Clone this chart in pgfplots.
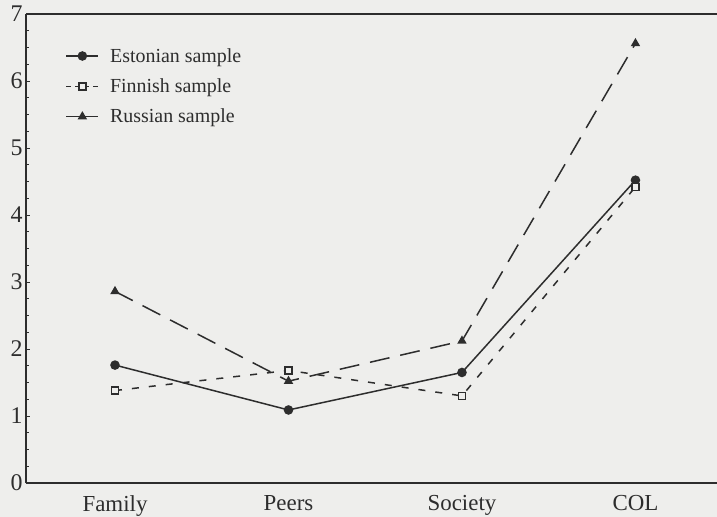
\documentclass[border=0pt]{standalone}
\usepackage{fontspec}
\setmainfont{Liberation Serif}
\usepackage{pgfplots}
\pgfplotsset{compat=1.18}
\definecolor{bg}{RGB}{238,238,236}
\definecolor{ink}{RGB}{45,45,45}
\begin{document}
\begin{tikzpicture}
\fill[bg] (-26bp,-34bp) rectangle (691bp,483bp);
\begin{axis}[
  at={(0,0)}, anchor=south west,
  scale only axis, width=691bp, height=469bp,
  xmin=-0.513, xmax=3.47, ymin=0, ymax=7,
  axis x line=bottom, axis y line=left,
  axis line style={ink, line width=1.6bp, -},
  xtick={0,1,2,3}, xticklabels={Family,Peers,Society,COL},
  major x tick style={draw=none},
  ytick={0,1,...,7}, minor y tick num=3,
  tick align=inside, major tick length=4bp, minor tick length=3bp,
  every tick/.style={ink, line width=0.8bp},
  yticklabel style={font=\fontsize{24}{26}\selectfont, text=ink},
  xticklabel style={font=\fontsize{23}{25}\selectfont, text=ink, yshift=-9bp},
  /pgf/number format/assume math mode=true,
  clip=false,
  legend cell align=left,
  legend image code/.code={\draw[mark repeat=2,mark phase=2,#1] plot coordinates {(0bp,0bp) (16bp,0bp) (32bp,0bp)};},
  legend style={draw=none, fill=none, at={(axis cs:-0.303,6.55)}, anchor=north west,
    font=\fontsize{20}{22}\selectfont, text=ink, row sep=11bp,
    /tikz/every odd column/.append style={column sep=9bp}},
]
\addplot[ink, line width=1.5bp, mark=*, mark size=4bp] coordinates {(0,1.76) (1,1.09) (2,1.65) (3,4.52)};
\addlegendentry{Estonian sample}
\addplot[ink, line width=1.5bp, dash pattern=on 7bp off 10bp, mark=square*, mark size=3.5bp, mark options={solid, fill=bg},
  legend image post style={dash pattern=on 5bp off 4bp, dash phase=0bp}] coordinates {(0,1.38) (1,1.68) (2,1.30) (3,4.42)};
\addlegendentry{Finnish sample}
\addplot[ink, line width=1.5bp, dash pattern=on 20bp off 11bp, mark=triangle*, mark size=4bp, mark options={solid},
  legend image post style={solid}] coordinates {(0,2.86) (1,1.52) (2,2.12) (3,6.56)};
\addlegendentry{Russian sample}
\draw[ink, line width=1.6bp] (rel axis cs:0,1) -- (rel axis cs:1,1);
\end{axis}
\pgfresetboundingbox
\path[use as bounding box] (-26bp,-34bp) rectangle (691bp,483bp);
\end{tikzpicture}
\end{document}
